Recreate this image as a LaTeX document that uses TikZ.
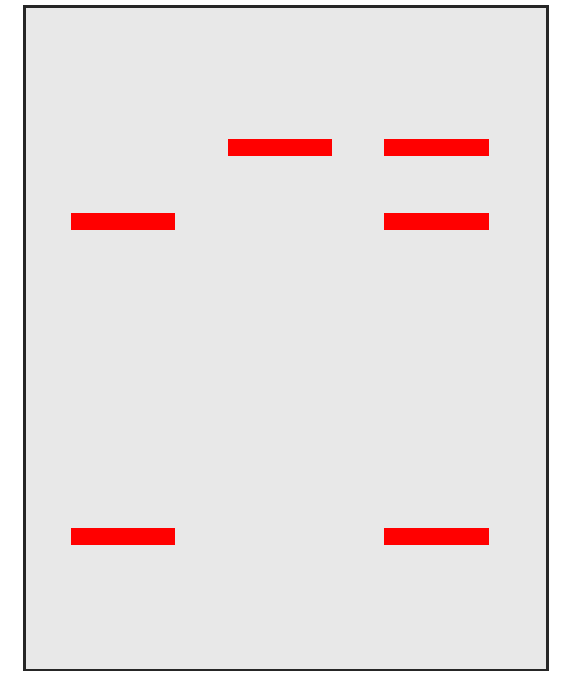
\documentclass[tikz,border=0pt]{standalone}
\usepackage{xcolor}
\definecolor{gelgray}{HTML}{E8E8E8}
\definecolor{bandred}{HTML}{FF0000}

\begin{document}
\begin{tikzpicture}[x=0.75pt,y=-0.75pt,
        band/.style={fill=bandred}]

        \useasboundingbox (0,0) rectangle (562,673);

        % gel slab
        \draw[fill=gelgray, draw=black!85, line width=2.2pt] (24.5,6.5) rectangle (547.5,670);

        % lane 1
        \begin{scope}[xshift=0]
            \fill[band] (71,213) rectangle (175,230);
            \fill[band] (71,528) rectangle (175,545);
        \end{scope}

        % lane 2
        \fill[band] (228,139) rectangle (332,156);

        % lane 3
        \fill[band] (384,139) rectangle (489,156);
        \fill[band] (384,213) rectangle (489,230);
        \fill[band] (384,528) rectangle (489,545);

    \end{tikzpicture}
\end{document}
